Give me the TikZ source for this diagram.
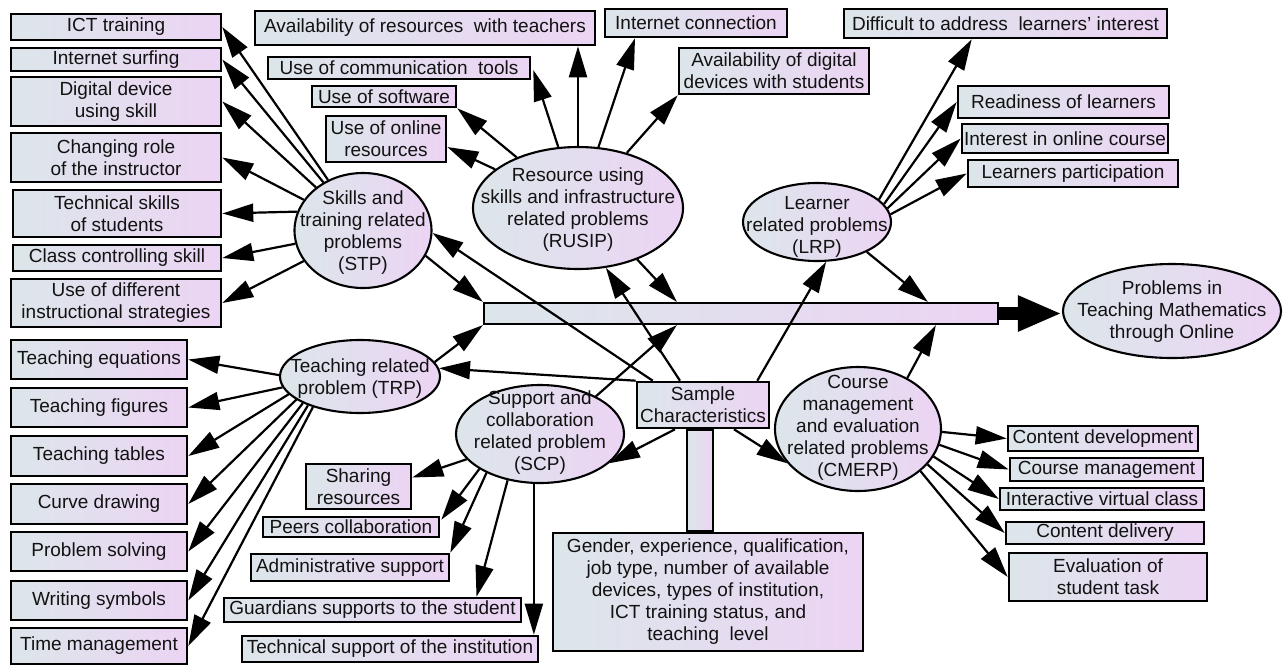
\documentclass[tikz,border=0pt]{standalone}
\usepackage{fontspec}
\setmainfont{Liberation Sans}
\usetikzlibrary{shapes.geometric,arrows.meta,calc}
\definecolor{cL}{RGB}{220,230,234}
\definecolor{cR}{RGB}{236,212,244}
\definecolor{ink}{RGB}{18,18,18}
\begin{document}
\begin{tikzpicture}[x=1pt,y=-1pt,
  every node/.style={font=\fontsize{19}{22}\selectfont, text=ink},
  box/.style={draw=black, line width=2.6pt, left color=cL, right color=cR, inner sep=0pt, align=center},
  ell/.style={ellipse, draw=black, line width=2.1pt, left color=cL, right color=cR, inner sep=0pt},
  etxt/.style={align=center, inner sep=0pt},
  arr/.style={draw=black, line width=2.2pt, -{Triangle[length=31pt,width=18pt]}},
  sz/.style 2 args={minimum width=#1pt, minimum height=#2pt}
]
\useasboundingbox (0,0) rectangle (1286,665);

% ---- left column (STP)
\node[box, sz={210}{26}] (ict)   at (116,27)    {ICT training};
\node[box, sz={210}{23}] (surf)  at (116,59.5)  {Internet surfing};
\node[box, sz={210}{49}] (dds)   at (116,101.5) {Digital device\\using skill};
\node[box, sz={210}{49}] (role)  at (116,157.5) {Changing role\\of the instructor};
\node[box, sz={208}{47}] (tech)  at (117,213.5) {Technical skills\\of students};
\node[box, sz={208}{26}] (cls)   at (117,258)   {Class controlling skill};
\node[box, sz={210}{48}] (strat) at (116,303)   {Use of different\\instructional strategies};

% ---- left column (TRP)
\node[box, sz={176}{39}] (eq)    at (99,359.5) {Teaching equations};
\node[box, sz={176}{39}] (fig)   at (99,407.5) {Teaching figures};
\node[box, sz={176}{40}] (tab)   at (99,456)   {Teaching tables};
\node[box, sz={176}{40}] (curve) at (99,504)   {Curve drawing};
\node[box, sz={176}{39}] (solve) at (99,551.5) {Problem solving};
\node[box, sz={176}{39}] (sym)   at (99,600.5) {Writing symbols};
\node[box, sz={176}{36}] (time)  at (99,646)   {Time management};

% ---- top (RUSIP)
\node[box, sz={340}{34}] (avr)    at (425,28)   {Availability of resources\ \ with teachers};
\node[box, sz={182}{28}] (inet)   at (696,23)   {Internet connection};
\node[box, sz={190}{46}] (avd)    at (774,71)   {Availability of digital\\devices with students};
\node[box, sz={262}{22}] (comm)   at (399,68)   {Use of communication\ \ tools};
\node[box, sz={144}{21}] (soft)   at (384,96.5) {Use of software};
\node[box, sz={120}{46}] (online) at (386,139)  {Use of online\\resources};

% ---- right top (LRP)
\node[box, sz={323}{29}] (diff)  at (1005.5,23.5) {Difficult to address\ \ learners’ interest};
\node[box, sz={211}{32}] (ready) at (1063.5,102)  {Readiness of learners};
\node[box, sz={206}{29}] (intr)  at (1065,138.5)  {Interest in online course};
\node[box, sz={210}{27}] (part)  at (1073,173.5)  {Learners participation};

% ---- right bottom (CMERP)
\node[box, sz={190}{25}] (cdev) at (1103,438.5) {Content development};
\node[box, sz={193}{23}] (cman) at (1106.5,469.5) {Course management};
\node[box, sz={204}{22}] (ivc)  at (1102,499)   {Interactive virtual class};
\node[box, sz={198}{22}] (cdel) at (1105,533)   {Content delivery};
\node[box, sz={198}{48}] (eval) at (1108,577)   {Evaluation of\\student task};

% ---- bottom (SCP)
\node[box, sz={105}{45}] (share) at (358.5,486.5) {Sharing\\resources};
\node[box, sz={176}{20}] (peers) at (351,527)     {Peers collaboration};
\node[box, sz={198}{27}] (admin) at (350,567.5)   {Administrative support};
\node[box, sz={297}{24}] (guard) at (372.5,610)   {Guardians supports to the student};
\node[box, sz={296}{26}] (techs) at (390,649)     {Technical support of the institution};

% ---- centre
\node[box, line width=2.2pt, sz={514}{21}] (bar) at (741,313.5) {};
\node[box, sz={26}{101}] (stem) at (700,480.5) {};
\node[box, sz={132}{46}] (sample) at (703,405) {Sample\\Characteristics};
\node[box, sz={310}{118}] (gender) at (708,592) {Gender, experience, qualification,\\job type, number of available\\devices, types of institution,\\ICT training status, and\\teaching\ \ level};

% ---- ellipses
\node[ell, sz={137}{115}] (stp)   at (363,230.5) {};
\node[etxt] (stpT) at (363,233) {Skills and\\training related\\problems\\(STP)};
\node[ell, sz={210}{122}] (rusip) at (578,208) {};
\node[etxt] (rusipT) at (578,210) {Resource using\\skills and infrastructure\\related problems\\(RUSIP)};
\node[ell, sz={148}{78}] (lrp)    at (817,222) {};
\node[etxt] (lrpT) at (817,227) {Learner\\related problems\\(LRP)};
\node[ell, sz={160}{73}] (trp)    at (360,376.5) {};
\node[etxt] (trpT) at (360,379) {Teaching related\\problem (TRP)};
\node[ell, sz={168}{98}] (scp)    at (540,434) {};
\node[etxt] (scpT) at (540,433) {Support and\\collaboration\\related problem\\(SCP)};
\node[ell, sz={166}{124}] (cmerp) at (858,429) {};
\node[etxt] (cmerpT) at (858,428) {Course\\management\\and evaluation\\related problems\\(CMERP)};
\node[ell, sz={218}{94}] (prob)   at (1172,311) {};
\node[etxt] (probT) at (1172,311.5) {Problems in\\Teaching Mathematics\\through Online};

% ---- STP arrows
\draw[arr] (stp) -- (ict.east);
\draw[arr] (stp) -- (surf.east);
\draw[arr] (stp) -- (dds.east);
\draw[arr] (stp) -- (role.east);
\draw[arr] (stp.164) -- (tech.east);
\draw[arr] (stp) -- (cls.east);
\draw[arr] (stp) -- (strat.east);
\draw[arr] (stp.-22) -- (bar.north west);

% ---- TRP arrows
\draw[arr] (trp.179) -- (eq.east);
\draw[arr] (trp.188) -- (fig.east);
\draw[arr] (trp.194) -- (tab.east);
\draw[arr] (trp.200) -- (curve.east);
\draw[arr] (trp.205) -- (solve.east);
\draw[arr] (trp.209) -- (sym.east);
\draw[arr] (trp.213) -- (time.east);
\draw[arr] (trp.11) -- (bar.south west);

% ---- RUSIP arrows
\draw[arr] (rusip) -- ($(online.east)+(0,8)$);
\draw[arr] (rusip) -- (soft.south east);
\draw[arr] (rusip) -- ($(comm.east)+(2,2)$);
\draw[arr] (rusip.north) -- (avr.south -| rusip.north);
\draw[arr] (rusip) -- ($(inet.south)+(-61,0)$);
\draw[arr] (rusip) -- (avd.south west);
\draw[arr] (rusip.-41) -- ($(bar.north west)+(194,0)$);

% ---- LRP arrows
\draw[arr] (lrp.20) -- ($(diff.south west)+(129,0)$);
\draw[arr] (lrp.15) -- (ready.west);
\draw[arr] (lrp.11) -- (intr.west);
\draw[arr] (lrp.6) -- (part.west);
\draw[arr] (lrp.-31) -- ($(bar.north west)+(445,0)$);

% ---- CMERP arrows
\draw[arr] (cmerp.-2) -- (cdev.west);
\draw[arr] (cmerp.-11) -- (cman.west);
\draw[arr] (cmerp.-20) -- (ivc.west);
\draw[arr] (cmerp.-27) -- (cdel.west);
\draw[arr] (cmerp.-34) -- (eval.west);
\draw[arr] (cmerp.46) -- ($(bar.south west)+(453,0)$);

% ---- SCP arrows
\draw[arr] (scp.199) -- ($(share.east)+(0,-9)$);
\draw[arr] (scp.210) -- ($(peers.north east)+(1,4)$);
\draw[arr] (scp.216) -- (admin.north east);
\draw[arr] (scp.235) -- ($(guard.north)+(104,0)$);
\draw[arr] (scp.263) -- (scp.263 |- techs.north);
\draw[arr] (scp.34) -- ($(bar.south west)+(194,0)$);

% ---- Sample characteristics arrows
\draw[arr] (sample.north west) -- (trp.6);
\draw[arr] ($(sample.north west)+(17,0)$) -- (stp.-2);
\draw[arr] ($(sample.north)+(-23,0)$) -- (rusip.-65);
\draw[arr] ($(sample.north east)+(-13,0)$) -- (lrp.-77);
\draw[arr] ($(sample.south)+(-28,0)$) -- (scp.-23);
\draw[arr] ($(sample.south)+(31,0)$) -- (cmerp.206);

% ---- main arrow
\draw[line width=13pt, -{Triangle[length=44pt,width=33pt]}] (bar.east) -- (bar.east -| prob.west);
\end{tikzpicture}
\end{document}
